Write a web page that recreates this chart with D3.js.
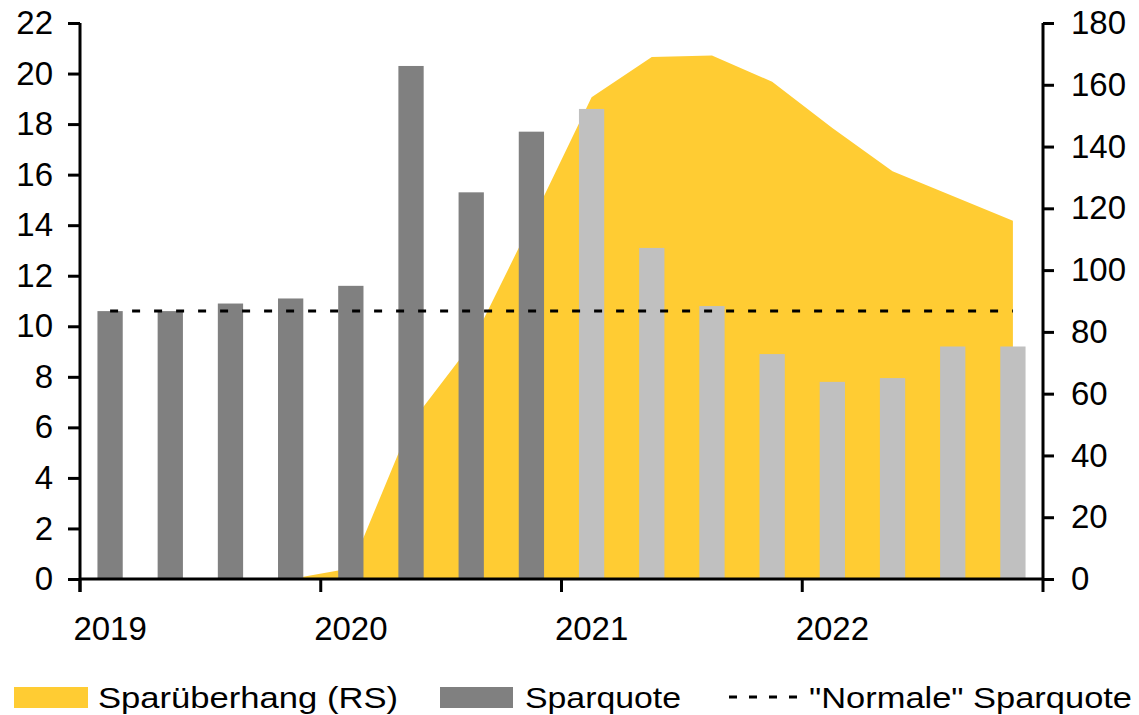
<!DOCTYPE html>
<html lang="de">
<head>
<meta charset="UTF-8">
<title>Sparquote und Sparüberhang</title>
<script src="https://d3js.org/d3.v7.min.js"></script>
<style>
    body { margin: 0; background: #fff; }
    svg { display: block; font-family: "Liberation Sans", Arial, sans-serif; }
    .axis text { fill: #000; }
</style>
</head>
<body>
<svg id="chart" width="1139" height="715"></svg>
<script>
// quarterly data 2019 Q1 .. 2022 Q4
const quarters = ["2019Q1","2019Q2","2019Q3","2019Q4","2020Q1","2020Q2","2020Q3","2020Q4",
                  "2021Q1","2021Q2","2021Q3","2021Q4","2022Q1","2022Q2","2022Q3","2022Q4"];
const years = ["2019", "2020", "2021", "2022"];

// Sparquote in % (left axis); from 2021 on forecast (light bars)
const sparquote = [10.6, 10.6, 10.9, 11.1, 11.6, 20.3, 15.3, 17.7,
                   18.6, 13.1, 10.8, 8.9, 7.8, 7.95, 9.2, 9.2];
const forecastFrom = "2021Q1";

// Sparüberhang (right axis)
const ueberhang = [null, null, null, 0, 3.5, 50.5, 76, 115.5,
                   156, 169, 169.5, 161, 146, 132, 124, 116];

const normaleSparquote = 10.6;

const leftTicks = d3.range(0, 23, 2);
const rightTicks = d3.range(0, 181, 20);

const svg = d3.select("#chart");
const mLeft = 80, mRight = 1043, mTop = 23, mBottom = 579;

const x = d3.scaleBand().domain(quarters).range([mLeft, mRight])
    .paddingInner(0.58).paddingOuter(0.29);
const yL = d3.scaleLinear().domain([0, 22]).range([mBottom, mTop]);
const yR = d3.scaleLinear().domain([0, 180]).range([mBottom, mTop]);

const center = q => x(q) + x.bandwidth() / 2;

// area
const area = d3.area()
    .defined(d => d.v !== null)
    .x(d => center(d.q))
    .y0(yR(0))
    .y1(d => yR(d.v));
svg.append("path")
    .datum(quarters.map((q, i) => ({ q: q, v: ueberhang[i] })))
    .attr("d", area)
    .attr("fill", "#FFCC33");

// bars
const fIdx = quarters.indexOf(forecastFrom);
svg.selectAll("rect.bar")
    .data(quarters.map((q, i) => ({ q: q, v: sparquote[i], f: i >= fIdx })))
    .join("rect")
    .attr("class", "bar")
    .attr("x", d => x(d.q))
    .attr("width", x.bandwidth())
    .attr("y", d => yL(d.v))
    .attr("height", d => yL(0) - yL(d.v))
    .attr("fill", d => d.f ? "#C0C0C0" : "#808080");

// "normale" Sparquote
svg.append("line")
    .attr("x1", center(quarters[0]))
    .attr("x2", center(quarters[quarters.length - 1]))
    .attr("y1", yL(normaleSparquote))
    .attr("y2", yL(normaleSparquote))
    .attr("stroke", "#000")
    .attr("stroke-width", 3)
    .attr("stroke-dasharray", "8,14");

// axes
const gl = svg.append("g").attr("class", "axis")
    .attr("transform", `translate(${mLeft},0)`)
    .call(d3.axisLeft(yL).tickValues(leftTicks).tickSize(12).tickPadding(15));
const gr = svg.append("g").attr("class", "axis")
    .attr("transform", `translate(${mRight},0)`)
    .call(d3.axisRight(yR).tickValues(rightTicks).tickSize(11).tickPadding(17));
[gl, gr].forEach(g => {
    g.select(".domain").attr("d", `M0,${mTop}V${mBottom + 13}`).attr("stroke-width", 3);
    g.selectAll(".tick line").attr("stroke-width", 3);
    g.selectAll(".tick text").attr("font-size", 33).attr("font-family", "Liberation Sans, Arial, sans-serif");
});

// x axis
svg.append("line")
    .attr("x1", mLeft).attr("x2", mRight)
    .attr("y1", mBottom).attr("y2", mBottom)
    .attr("stroke", "#000").attr("stroke-width", 3);
const gap = (x.step() - x.bandwidth()) / 2;
years.forEach(yr => {
    const q1 = yr + "Q1";
    const bx = x(q1) - gap;
    svg.append("line")
        .attr("x1", bx).attr("x2", bx)
        .attr("y1", mBottom).attr("y2", mBottom + 13)
        .attr("stroke", "#000").attr("stroke-width", 3);
    svg.append("text")
        .attr("x", center(q1))
        .attr("y", 640)
        .attr("text-anchor", "middle")
        .attr("font-size", 33)
        .text(yr);
});

// legend
const lg = svg.append("g");
lg.append("rect").attr("x", 14).attr("y", 687).attr("width", 74).attr("height", 21).attr("fill", "#FFCC33");
lg.append("text").attr("x", 98).attr("y", 708).attr("font-size", 30)
    .attr("textLength", 300).attr("lengthAdjust", "spacingAndGlyphs").text("Sparüberhang (RS)");
lg.append("rect").attr("x", 440).attr("y", 687).attr("width", 73).attr("height", 21).attr("fill", "#808080");
lg.append("text").attr("x", 525).attr("y", 708).attr("font-size", 30)
    .attr("textLength", 156).attr("lengthAdjust", "spacingAndGlyphs").text("Sparquote");
lg.append("line").attr("x1", 729).attr("x2", 800).attr("y1", 697).attr("y2", 697)
    .attr("stroke", "#000").attr("stroke-width", 3).attr("stroke-dasharray", "8,12");
lg.append("text").attr("x", 809).attr("y", 708).attr("font-size", 30)
    .attr("textLength", 323).attr("lengthAdjust", "spacingAndGlyphs").text("\"Normale\" Sparquote");
</script>
</body>
</html>
